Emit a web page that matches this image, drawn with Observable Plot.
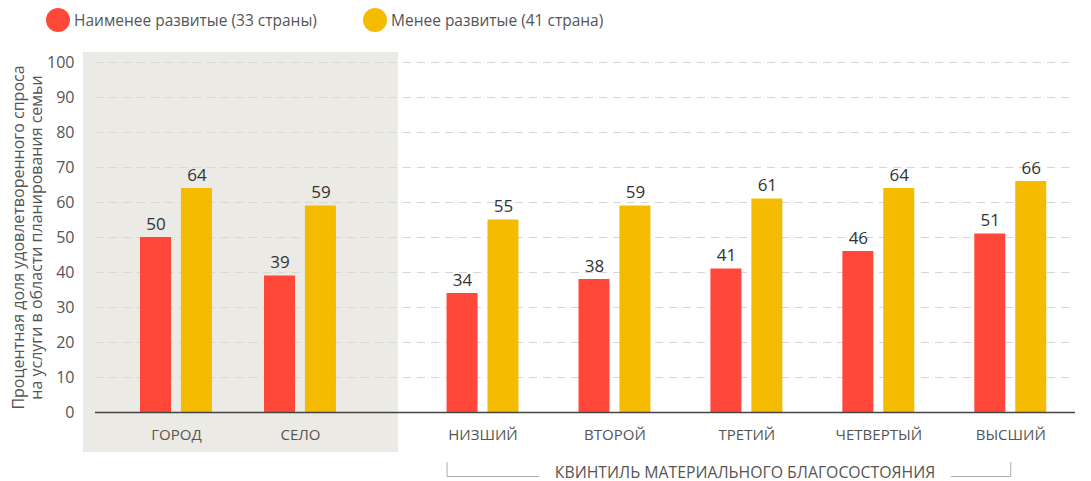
<!DOCTYPE html>
<html>
<head>
<meta charset="utf-8">
<script src="https://cdn.jsdelivr.net/npm/d3@7"></script>
<script src="https://cdn.jsdelivr.net/npm/@observablehq/plot@0.6"></script>
<style>
  body { margin: 0; background: #fff; font-family: "Open Sans", sans-serif; }
  #wrap { position: relative; width: 1091px; height: 481px; }
  #legend { position: absolute; left: 0; top: 0; width: 1091px; height: 40px; font-size: 15.5px; color: #555; z-index: 2; }
  .item { position: absolute; top: 8px; height: 24px; display: flex; align-items: center; }
  .sw { width: 24px; height: 24px; border-radius: 50%; margin-right: 4px; }
  #chart svg { overflow: visible; }
</style>
</head>
<body>
<div id="wrap">
<div id="chart"></div>
<div id="legend"></div>
</div>
<script>
// ---- data ----
const categories = ["ГОРОД", "СЕЛО", "НИЗШИЙ", "ВТОРОЙ", "ТРЕТИЙ", "ЧЕТВЕРТЫЙ", "ВЫСШИЙ"];
const leastDeveloped = [50, 39, 34, 38, 41, 46, 51];
const lessDeveloped = [64, 59, 55, 59, 61, 64, 66];
const seriesNames = ["Наименее развитые (33 страны)", "Менее развитые (41 страна)"];
const yTicks = [0, 10, 20, 30, 40, 50, 60, 70, 80, 90, 100];
const yLabel = ["Процентная доля удовлетворенного спроса", "на услуги в области планирования семьи"];
const groupLabel = "КВИНТИЛЬ МАТЕРИАЛЬНОГО БЛАГОСОСТОЯНИЯ";

// ---- layout ----
const colors = ["#FF483A", "#F5BB00"];
const residenceCount = 2;
const quintileStart = 2.472, quintileStep = 1.064;
const pos = i => i < residenceCount ? i : quintileStart + (i - residenceCount) * quintileStep;
const half = 0.29, gap = 0.04;

const rows = [];
categories.forEach((c, i) => {
  rows.push({cat: c, s: 0, v: leastDeveloped[i], x1: pos(i) - half, x2: pos(i) - gap});
  rows.push({cat: c, s: 1, v: lessDeveloped[i], x1: pos(i) + gap, x2: pos(i) + half});
});
const catRows = categories.map((c, i) => ({cat: c, x: pos(i)}));

// legend
const lg = document.getElementById("legend");
[[46, 0], [363, 1]].forEach(([left, s]) => {
  const d = document.createElement("div");
  d.className = "item"; d.style.left = left + "px";
  d.innerHTML = `<div class="sw" style="background:${colors[s]}"></div><span>${seriesNames[s]}</span>`;
  lg.appendChild(d);
});

const xFirst = pos(residenceCount), xLast = pos(categories.length - 1);
const bL = xFirst - half, bR = xLast;

const chart = Plot.plot({
  width: 1091,
  height: 481,
  marginLeft: 95,
  marginRight: 16,
  marginTop: 62,
  marginBottom: 69,
  style: {fontFamily: "Open Sans, sans-serif", background: "transparent", overflow: "visible"},
  x: {domain: [-0.653, 7.25], axis: null},
  y: {domain: [0, 100], axis: null},
  marks: [
    Plot.rect([{}], {x1: -0.75, x2: 1.79, y1: -11.43, y2: 102.86, fill: "#EBEAE4"}),
    Plot.ruleY(yTicks.filter(d => d > 0), {stroke: "#d6d6d4", strokeDasharray: "8,6"}),
    Plot.axisY({ticks: yTicks, tickSize: 0, tickPadding: 21, fontSize: 16, color: "#555", label: null}),
    Plot.rect(rows, {x1: "x1", x2: "x2", y1: 0, y2: "v", fill: d => colors[d.s]}),
    Plot.text(rows, {x: d => (d.x1 + d.x2) / 2, y: "v", text: d => String(d.v), dy: -13, fontSize: 17, fill: "#333"}),
    Plot.ruleY([0], {stroke: "#444", strokeWidth: 1.3}),
    Plot.text(catRows, {x: "x", y: 0, text: "cat", dy: 23, fontSize: 15, fill: "#555"}),
    Plot.text([yLabel[0]], {frameAnchor: "left", textAnchor: "middle", rotate: -90, dx: -77, fontSize: 16, fill: "#555"}),
    Plot.text([yLabel[1]], {frameAnchor: "left", textAnchor: "middle", rotate: -90, dx: -59, fontSize: 16, fill: "#555"}),
    // bracket
    Plot.line([[bL, -14.3], [bL, -18.3], [bL + 0.74, -18.3]], {stroke: "#aaa", strokeWidth: 1}),
    Plot.line([[bR - 0.48, -18.3], [bR, -18.3], [bR, -14.3]], {stroke: "#aaa", strokeWidth: 1}),
    Plot.text([groupLabel], {x: (bL + 0.74 + bR - 0.48) / 2, y: -17.3, fontSize: 15.8, fill: "#555"})
  ]
});
document.getElementById("chart").appendChild(chart);
</script>
</body>
</html>
